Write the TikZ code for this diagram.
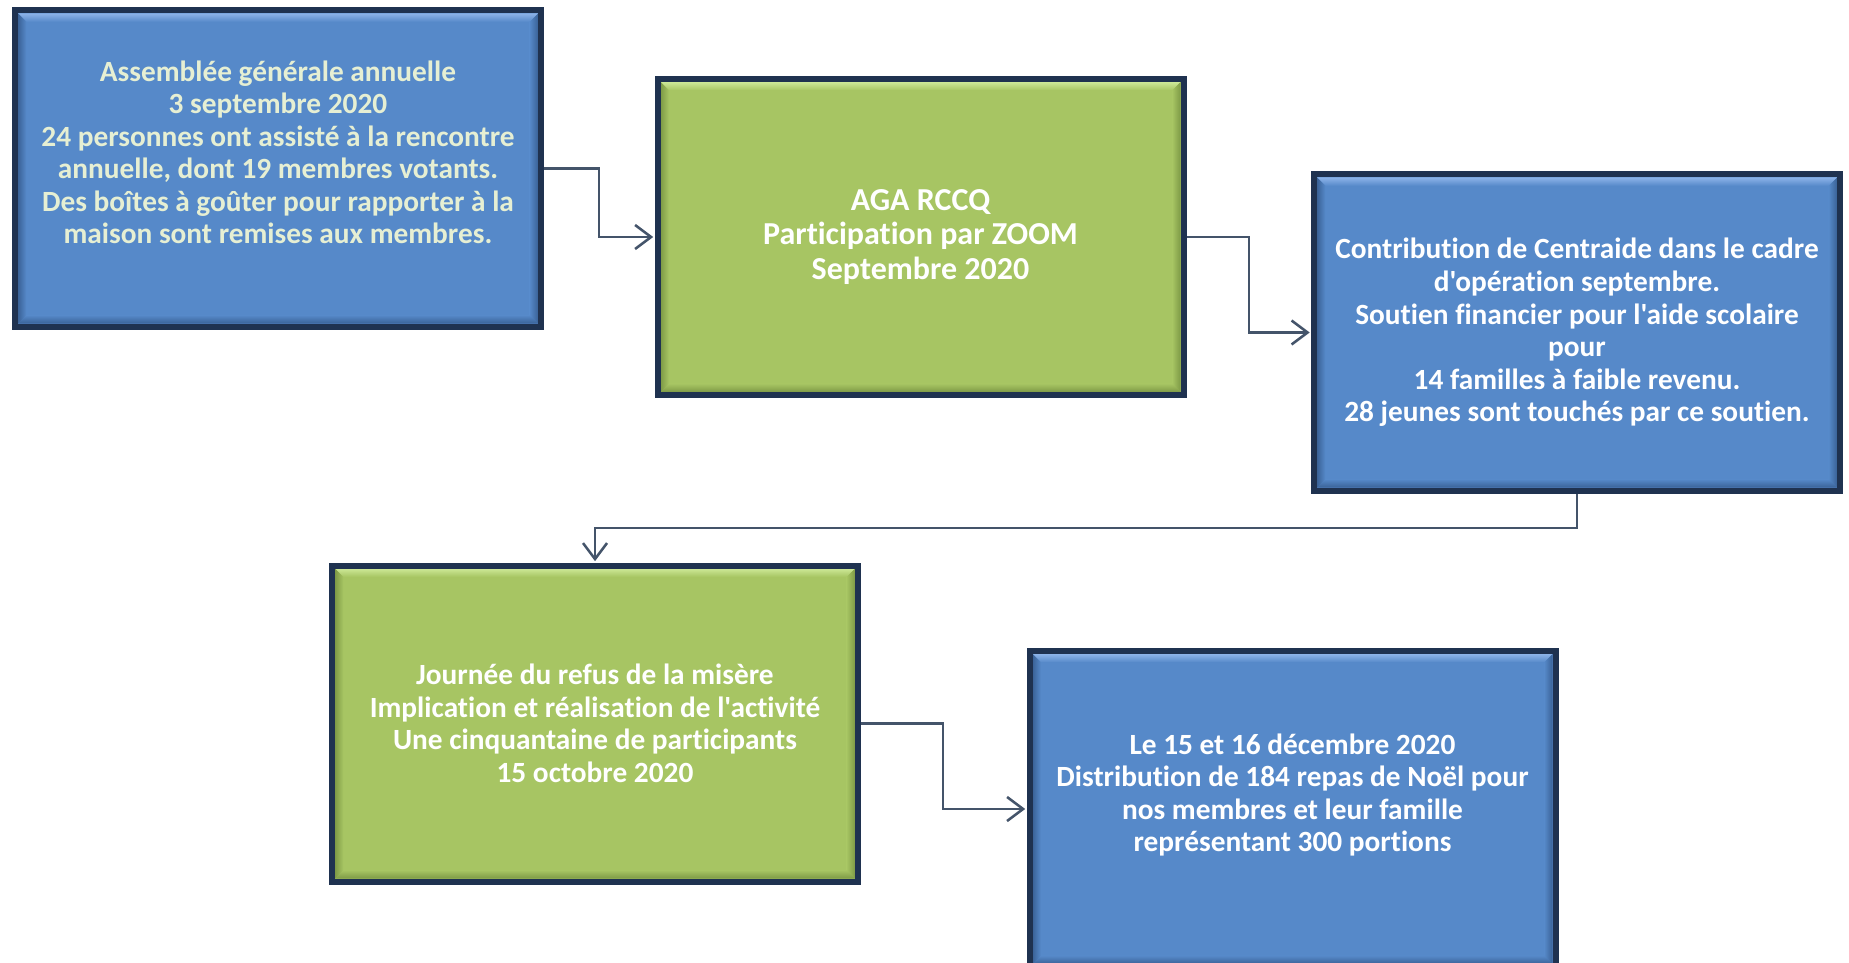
\documentclass[tikz,border=0pt]{standalone}
\usepackage{fontspec}
\setmainfont{Carlito}[Ligatures={NoCommon,TeXOff}]
\usetikzlibrary{arrows.meta,calc}
\definecolor{boxblue}{HTML}{5689C9}
\definecolor{boxgreen}{HTML}{A7C563}
\definecolor{navy}{HTML}{1F3250}
\definecolor{bluelight}{HTML}{8CB3E8}
\definecolor{bluedark}{HTML}{3A6297}
\definecolor{greenlight}{HTML}{CDE897}
\definecolor{greendark}{HTML}{7E9A46}
\definecolor{conncol}{HTML}{44546A}
\definecolor{paletext}{HTML}{E6EFD3}
\tikzset{
  bevelbox/.style n args={3}{
    draw=navy, line width=4.5pt, fill=#1,
    minimum width=394.5pt, minimum height=237pt,
    inner sep=0pt, outer sep=2.25pt, align=center,
    font=\bfseries\fontsize{22}{24.4}\selectfont,
    path picture={
      \coordinate (pNW) at (path picture bounding box.north west);
      \coordinate (pNE) at (path picture bounding box.north east);
      \coordinate (pSW) at (path picture bounding box.south west);
      \coordinate (pSE) at (path picture bounding box.south east);
      \path[line width=0pt, top color=#2, bottom color=#1]
        ($(pNW)+(2.25pt,-2.25pt)$) -- ($(pNE)+(-2.25pt,-2.25pt)$)
        -- ($(pNE)+(-8.5pt,-8.5pt)$) -- ($(pNW)+(8.5pt,-8.5pt)$) -- cycle;
      \path[line width=0pt, left color=#3, right color=#1]
        ($(pNW)+(2.25pt,-2.25pt)$) -- ($(pSW)+(2.25pt,2.25pt)$)
        -- ($(pSW)+(8.5pt,8.5pt)$) -- ($(pNW)+(8.5pt,-8.5pt)$) -- cycle;
      \path[line width=0pt, left color=#1, right color=#3]
        ($(pNE)+(-2.25pt,-2.25pt)$) -- ($(pSE)+(-2.25pt,2.25pt)$)
        -- ($(pSE)+(-8.5pt,8.5pt)$) -- ($(pNE)+(-8.5pt,-8.5pt)$) -- cycle;
      \path[line width=0pt, top color=#1, bottom color=#3]
        ($(pSW)+(2.25pt,2.25pt)$) -- ($(pSE)+(-2.25pt,2.25pt)$)
        -- ($(pSE)+(-8.5pt,8.5pt)$) -- ($(pSW)+(8.5pt,8.5pt)$) -- cycle;
    }
  },
  bluebox/.style={bevelbox={boxblue}{bluelight}{bluedark}},
  greenbox/.style={bevelbox={boxgreen}{greenlight}{greendark}},
  conn/.style={draw=conncol, line width=1.9pt,
    -{Straight Barb[length=12pt,width=18pt,line width=1.9pt]}, shorten >=1pt}
}
\begin{document}
\begin{tikzpicture}[x=0.75pt,y=-0.75pt]
\useasboundingbox (0,0) rectangle (1849,963);
\clip (0,0) rectangle (1849,963);
\fill[white] (0,0) rectangle (1849,963);

\node[bluebox, text=paletext] (b1) at (278,168.5)
  {Assemblée générale annuelle\\3 septembre 2020\\24 personnes ont assisté à la rencontre\\annuelle, dont 19 membres votants.\\Des boîtes à goûter pour rapporter à la\\maison sont remises aux membres.\\~};
\node[greenbox, text=white, font=\bfseries\fontsize{24}{26.2}\selectfont] (b2) at (920.5,237)
  {AGA RCCQ\\Participation par ZOOM\\Septembre 2020};
\node[bluebox, text=white] (b3) at (1577,332.5)
  {Contribution de Centraide dans le cadre\\d'opération septembre.\\Soutien financier pour l'aide scolaire\\pour\\14 familles à faible revenu.\\28 jeunes sont touchés par ce soutien.};
\node[greenbox, text=white] (b4) at (595,723.5)
  {Journée du refus de la misère\\Implication et réalisation de l'activité\\Une cinquantaine de participants\\15 octobre 2020};
\node[bluebox, text=white] (b5) at (1292.5,809)
  {Le 15 et 16 décembre 2020\\Distribution de 184 repas de Noël pour\\nos membres et leur famille\\représentant 300 portions\\~};

\coordinate (m12) at (599,0);
\coordinate (m23) at (1249,0);
\coordinate (m34) at (0,528);
\coordinate (m45) at (943,0);

\draw[conn] (b1.east) -- (b1.east -| m12) |- (b2.west);
\draw[conn] (b2.east) -- (b2.east -| m23) |- (b3.west);
\draw[conn] (b3.south) -- (b3.south |- m34) -| (b4.north);
\draw[conn] (b4.east) -- (b4.east -| m45) |- (b5.west);
\end{tikzpicture}
\end{document}
